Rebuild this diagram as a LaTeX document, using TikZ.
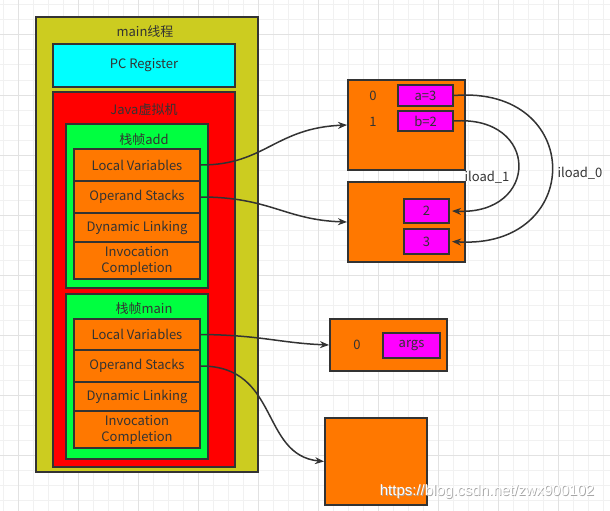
\documentclass[tikz,border=0pt]{standalone}
\usepackage{fontspec}
\setmainfont{Noto Sans CJK SC}
\newfontfamily\wmfont{Liberation Sans}
\usetikzlibrary{arrows.meta}
\definecolor{bd}{HTML}{333333}
\definecolor{olive}{HTML}{CCCC20}
\definecolor{cyanc}{HTML}{00FFFF}
\definecolor{redc}{HTML}{FF0000}
\definecolor{greenc}{HTML}{00FF40}
\definecolor{orangec}{HTML}{FF7800}
\definecolor{magc}{HTML}{FF00FF}
\definecolor{gminor}{HTML}{F1F1F1}
\definecolor{gmajor}{HTML}{E2E2E2}
\tikzset{
  box/.style={draw=bd, line width=2pt, inner sep=0pt, text=bd, font=\fontsize{13}{16}\selectfont},
  cell/.style={box, fill=orangec, minimum width=126pt, align=center},
  val/.style={box, fill=magc},
  lbl/.style={text=bd, font=\fontsize{13}{16}\selectfont, inner sep=0pt},
  conn/.style={draw=bd, line width=1.5pt, -{Stealth[length=9pt,width=7pt]}},
  wmstyle/.style={font=\wmfont\fontsize{15}{17}\selectfont, inner sep=0pt},
}
\begin{document}
\begin{tikzpicture}[x=1pt,y=-1pt]
\useasboundingbox (0,0) rectangle (610,511);
% grid
\foreach \x in {3,18,...,610} \draw[gminor, line width=1pt] (\x,0) -- (\x,511);
\foreach \y in {5,20,...,511} \draw[gminor, line width=1pt] (0,\y) -- (610,\y);
\foreach \x in {18,78,...,610} \draw[gmajor, line width=1pt] (\x,0) -- (\x,511);
\foreach \y in {35,95,...,511} \draw[gmajor, line width=1pt] (0,\y) -- (610,\y);
% left structure
\node[box, fill=olive, minimum width=222pt, minimum height=455pt] (thread) at (147,244.5) {};
\node[lbl] (threadlbl) at (145,32) {main线程};
\node[box, fill=cyanc, minimum width=182pt, minimum height=43pt] (pc) at (144,65.5) {PC Register};
\node[box, fill=redc, minimum width=182pt, minimum height=375pt] (jvm) at (144,279.5) {};
\node[lbl] (jvmlbl) at (144,110) {Java虚拟机};
% frame add
\node[box, fill=greenc, minimum width=142pt, minimum height=164pt] (fadd) at (137,206) {};
\node[lbl] (faddlbl) at (144,140) {栈帧add};
\node[cell, minimum height=32pt] (lva) at (137,165) {Local Variables};
\node[cell, minimum height=32pt] (osa) at (137,197) {Operand Stacks};
\node[cell, minimum height=29pt] (dla) at (137,227.5) {Dynamic Linking};
\node[cell, minimum height=37pt] (ica) at (137,260.5) {Invocation\\Completion};
% frame main
\node[box, fill=greenc, minimum width=142pt, minimum height=165pt] (fmain) at (137,376.5) {};
\node[lbl] (fmainlbl) at (144,309) {栈帧main};
\node[cell, minimum height=31pt] (lvm) at (137,334.5) {Local Variables};
\node[cell, minimum height=32pt] (osm) at (137,366) {Operand Stacks};
\node[cell, minimum height=29pt] (dlm) at (137,396.5) {Dynamic Linking};
\node[cell, minimum height=37pt] (icm) at (137,429.5) {Invocation\\Completion};
% right boxes
\node[box, fill=orangec, minimum width=117pt, minimum height=90pt] (b1) at (406.5,125) {};
\node[lbl] (i0) at (373,96) {0};
\node[lbl] (i1) at (373,122) {1};
\node[val, minimum width=55pt, minimum height=21pt] (a3) at (425.5,95.5) {a=3};
\node[val, minimum width=55pt, minimum height=20pt] (b2) at (425.5,121) {b=2};
\node[box, fill=orangec, minimum width=117pt, minimum height=80pt] (b2box) at (406.5,222) {};
\node[val, minimum width=45pt, minimum height=24pt] (s2) at (426.5,211) {2};
\node[val, minimum width=45pt, minimum height=25pt] (s3) at (426.5,241.5) {3};
\node[box, fill=orangec, minimum width=117pt, minimum height=52pt] (b3) at (388.5,345) {};
\node[lbl] (j0) at (357,345) {0};
\node[val, minimum width=57pt, minimum height=25pt] (args) at (411.5,345.5) {args};
\node[box, fill=orangec, minimum width=102pt, minimum height=87pt] (b4) at (376,461.5) {};
% connectors
\draw[conn] (lva.east) .. controls (265,165) and (275,128) .. (b1.west);
\draw[conn] (osa.east) .. controls (270,197) and (285,220) .. (b2box.west);
\draw[conn] (lvm.east) .. controls (260,335) and (280,343) .. (b3.west);
\draw[conn] (osm.east) .. controls (280,366) and (260,455) .. (b4.west);
\draw[conn] (b2.east) .. controls (540,115) and (540,215) .. ([xshift=2pt]s2.east);
\draw[conn] (a3.east) .. controls (585,85) and (585,250) .. ([xshift=2pt]s3.east);
\node[lbl] (l1) at (487,177) {iload\_1};
\node[lbl] (l0) at (580,173) {iload\_0};
% watermark
\node[wmstyle, text=black!35] (wmshadow) at (487.8,492.8) {https://blog.csdn.net/zwx900102};
\node[wmstyle, text=white] (wm) at (487,492) {https://blog.csdn.net/zwx900102};
\end{tikzpicture}
\end{document}
